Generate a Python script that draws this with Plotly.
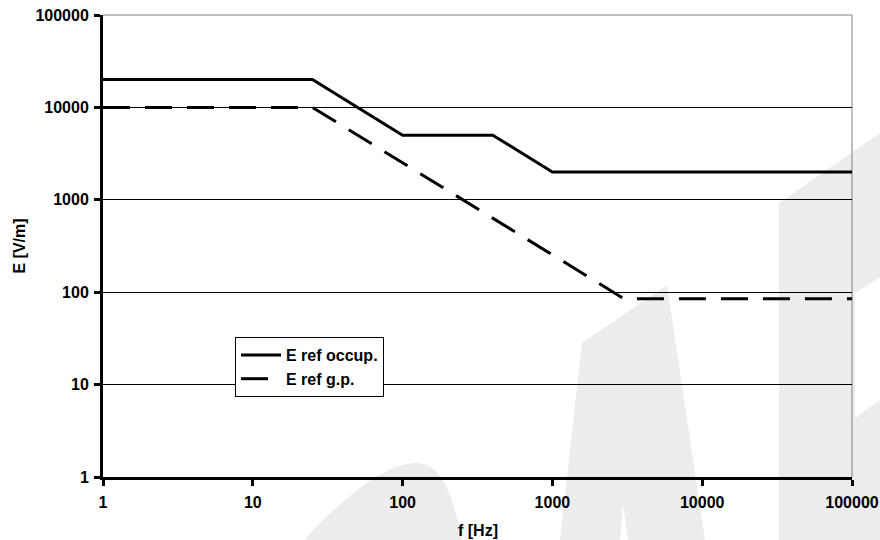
import plotly.graph_objects as go

# ---- data ----
f_occ = [1, 25, 100, 400, 1000, 100000]
e_occ = [20000, 20000, 5000, 5000, 2000, 2000]
f_gp = [1, 25, 3000, 100000]
e_gp = [10000, 10000, 85, 85]
tick_vals = [1, 10, 100, 1000, 10000, 100000]
tick_text = ["1", "10", "100", "1000", "10000", "100000"]
name_occ = "E ref occup."
name_gp = "E ref g.p."
x_title = "f [Hz]"
y_title = "E [V/m]"

W, H = 880, 540
ML, MR, MT, MB = 103, 28, 15, 63
PW, PH = W - ML - MR, H - MT - MB

def px(x):
    return (x - ML) / PW

def py(y):
    return (H - MB - y) / PH

FONT = "Liberation Sans, Arial, Helvetica, sans-serif"
WM = "#ececec"

fig = go.Figure()
fig.add_trace(go.Scatter(x=f_occ, y=e_occ, mode="lines", name=name_occ,
                         line=dict(color="black", width=3)))
fig.add_trace(go.Scatter(x=f_gp, y=e_gp, mode="lines", name=name_gp,
                         line=dict(color="black", width=3, dash="27px,15px")))

# faint background watermark (decoration, pixel outlines)
def poly(points):
    d = "M " + " L ".join(f"{px(a):.4f},{py(b):.4f}" for a, b in points) + " Z"
    return dict(type="path", xref="paper", yref="paper", path=d,
                fillcolor=WM, line=dict(width=0), layer="below")

shapes = []
shapes.append(poly([(560, 540), (582, 343), (667, 285), (705, 540),
                    (628, 540), (623, 504), (620, 540)]))
shapes.append(poly([(779, 540), (779, 203), (880, 133), (880, 277), (855, 293),
                    (855, 418), (880, 400), (880, 540)]))
dome = (f"M {px(304):.4f},{py(540):.4f} "
        f"C {px(355):.4f},{py(485):.4f} {px(400):.4f},{py(455):.4f} {px(427):.4f},{py(465):.4f} "
        f"C {px(445):.4f},{py(472):.4f} {px(455):.4f},{py(505):.4f} {px(462):.4f},{py(540):.4f} Z")
shapes.append(dict(type="path", xref="paper", yref="paper", path=dome,
                   fillcolor=WM, line=dict(width=0), layer="below"))
# top and right frame lines
shapes.append(dict(type="line", xref="paper", yref="paper", x0=0, x1=1, y0=1, y1=1,
                   line=dict(color="#808080", width=1), layer="below"))
shapes.append(dict(type="line", xref="paper", yref="paper", x0=1, x1=1, y0=0, y1=1,
                   line=dict(color="#808080", width=1), layer="below"))

axis_common = dict(
    type="log", range=[0, 5], tickvals=tick_vals, ticktext=tick_text,
    showline=True, linecolor="black", linewidth=3,
    ticks="outside", ticklen=6, tickwidth=3, tickcolor="black",
    zeroline=False, automargin=False,
    tickfont=dict(family=FONT, size=16, color="black", weight="bold"),
)

fig.update_xaxes(**axis_common, showgrid=False, ticklabelstandoff=3)
fig.update_yaxes(**axis_common, showgrid=True, gridcolor="black", gridwidth=1,
                 ticklabelstandoff=2)

fig.update_layout(
    width=W, height=H,
    margin=dict(l=ML, r=MR, t=MT, b=MB, pad=0, autoexpand=False),
    paper_bgcolor="white", plot_bgcolor="rgba(0,0,0,0)",
    shapes=shapes,
    showlegend=True,
    legend=dict(x=px(235), y=py(337), xanchor="left", yanchor="top",
                bgcolor="white", bordercolor="black", borderwidth=1,
                font=dict(family=FONT, size=16, color="black", weight="bold"),
                itemwidth=40, tracegroupgap=0),
    annotations=[
        dict(text=x_title, xref="paper", yref="paper", x=0.5, y=py(530),
             xanchor="center", yanchor="middle", showarrow=False,
             font=dict(family=FONT, size=16, color="black", weight="bold")),
        dict(text=y_title, xref="paper", yref="paper", x=px(18.5), y=0.5,
             xanchor="center", yanchor="middle", showarrow=False, textangle=-90,
             font=dict(family=FONT, size=16, color="black", weight="bold")),
    ],
)

fig.write_html("out.html")
